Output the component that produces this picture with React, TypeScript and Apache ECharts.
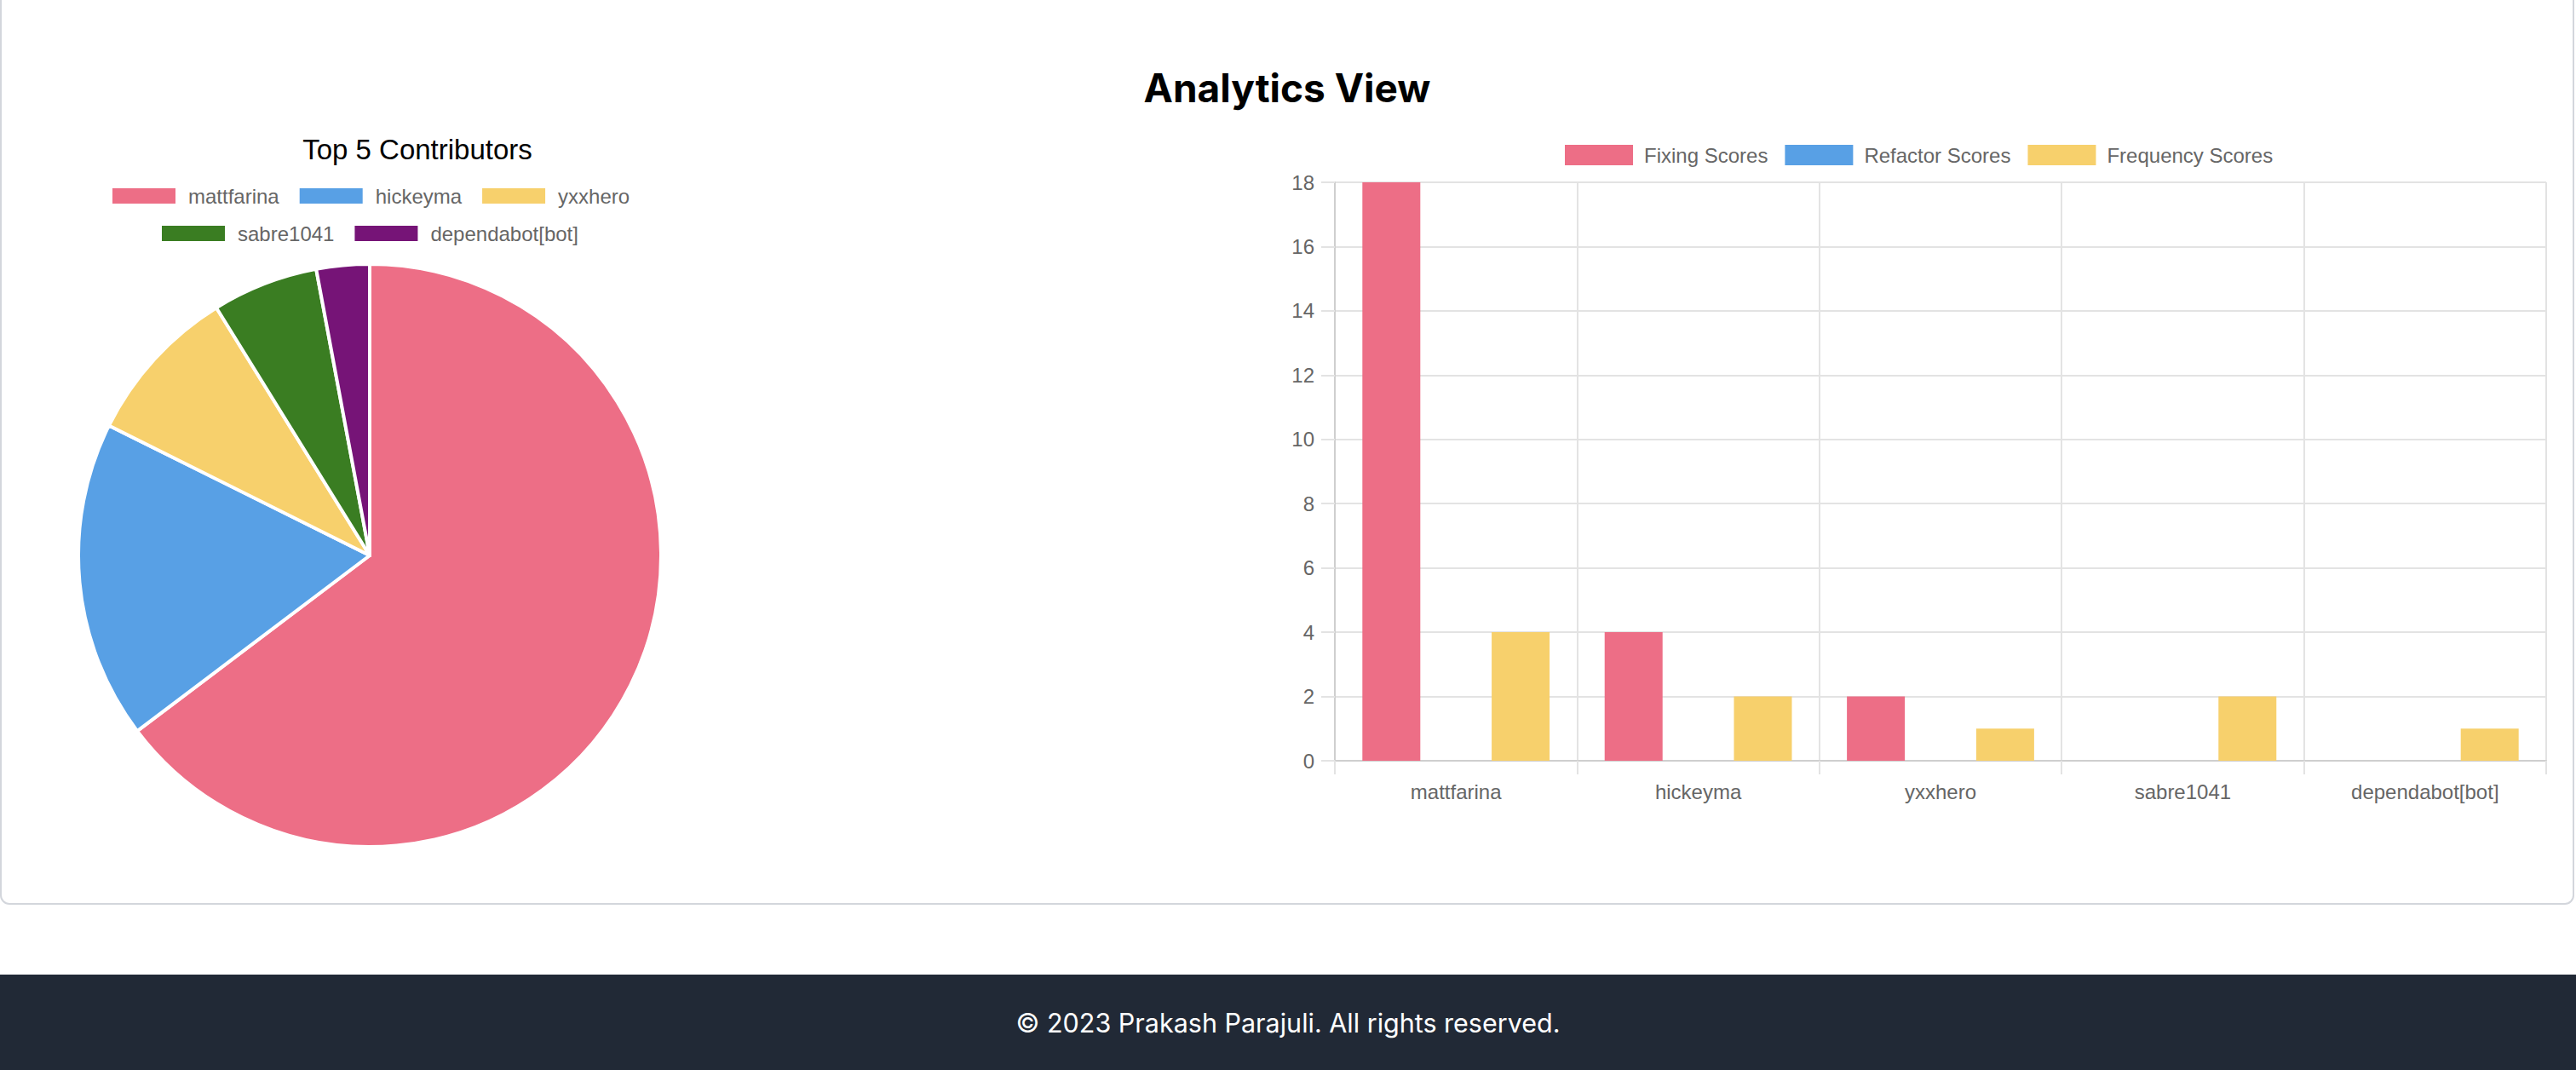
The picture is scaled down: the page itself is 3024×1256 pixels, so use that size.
import React, { useEffect, useRef } from "react";
import * as echarts from "echarts";

const contributors = ["mattfarina", "hickeyma", "yxxhero", "sabre1041", "dependabot[bot]"];
const contributionCounts = [22, 6, 3, 2, 1];
const pieColors = ["#ED6E86", "#58A0E5", "#F7D06C", "#3A7D22", "#761477"];

const scoreNames = ["Fixing Scores", "Refactor Scores", "Frequency Scores"];
const fixingScores = [18, 4, 2, 0, 0];
const refactorScores = [0, 0, 0, 0, 0];
const frequencyScores = [4, 2, 1, 2, 1];
const barColors = ["#ED6E86", "#58A0E5", "#F7D06C"];

const pageTitle = "Analytics View";
const pieTitle = "Top 5 Contributors";
const footerText = "\u00A9 2023 Prakash Parajuli. All rights reserved.";

const W = 3024;
const H = 1256;
const SANS = "'Liberation Sans', Arial, Helvetica, sans-serif";
const UI = "Inter, 'Noto Sans', sans-serif";

export default function App() {
  const ref = useRef<HTMLDivElement>(null);
  useEffect(() => {
    if (!ref.current) return;
    const chart = echarts.init(ref.current, undefined, { renderer: "svg", width: W, height: H });
    const legendText = { color: "#666", fontSize: 24, fontFamily: SANS, lineHeight: 24 };
    const option: any = {
      animation: false,
      backgroundColor: "#ffffff",
      graphic: [
        {
          type: "rect",
          z: -10,
          shape: { x: 1, y: -40, width: 3020, height: 1101, r: 10 },
          style: { fill: "#ffffff", stroke: "#d3d6dc", lineWidth: 2 },
          silent: true,
        },
        {
          type: "rect",
          z: -10,
          shape: { x: 0, y: 1144, width: W, height: H - 1144 },
          style: { fill: "#212936" },
          silent: true,
        },
        {
          type: "text",
          x: 1511,
          y: 103,
          style: { text: pageTitle, fill: "#000000", fontSize: 46, fontWeight: 700, fontFamily: UI, align: "center", verticalAlign: "middle" },
        },
        {
          type: "text",
          x: 490,
          y: 175,
          style: { text: pieTitle, fill: "#000000", fontSize: 33, fontFamily: SANS, align: "center", verticalAlign: "middle" },
        },
        {
          type: "text",
          x: 1512,
          y: 1200,
          style: { text: footerText, fill: "#ffffff", fontSize: 30.5, fontFamily: UI, align: "center", verticalAlign: "middle" },
        },
      ],
      legend: [
        {
          data: contributors.slice(0, 3),
          left: 130,
          top: 218,
          padding: 0,
          icon: "rect",
          itemWidth: 76,
          itemHeight: 20,
          itemGap: 22,
          selectedMode: false,
          textStyle: { ...legendText, padding: [0, 0, 0, 9] },
        },
        {
          data: contributors.slice(3),
          left: 188,
          top: 262,
          padding: 0,
          icon: "rect",
          itemWidth: 76,
          itemHeight: 20,
          itemGap: 22,
          selectedMode: false,
          textStyle: { ...legendText, padding: [0, 0, 0, 9] },
        },
        {
          data: scoreNames,
          left: 1837,
          top: 170,
          padding: 0,
          icon: "rect",
          itemWidth: 80,
          itemHeight: 24,
          itemGap: 20,
          selectedMode: false,
          textStyle: { ...legendText, padding: [0, 0, 0, 8] },
        },
      ],
      grid: { left: 1567, top: 214, width: 1422, height: 679, containLabel: false },
      xAxis: {
        type: "category",
        data: contributors,
        boundaryGap: true,
        axisLine: { show: true, lineStyle: { color: "#cfcfcf", width: 2 } },
        axisTick: { show: true, length: 16, alignWithLabel: false, lineStyle: { color: "#e3e3e3", width: 2 } },
        splitLine: { show: true, lineStyle: { color: "#e3e3e3", width: 2 } },
        axisLabel: { color: "#666", fontSize: 24, fontFamily: SANS, margin: 24 },
      },
      yAxis: {
        type: "value",
        min: 0,
        max: 18,
        interval: 2,
        axisLine: { show: true, lineStyle: { color: "#cfcfcf", width: 2 } },
        axisTick: { show: true, length: 16, lineStyle: { color: "#e3e3e3", width: 2 } },
        splitLine: { show: true, lineStyle: { color: "#e3e3e3", width: 2 } },
        axisLabel: { color: "#666", fontSize: 24, fontFamily: SANS, margin: 24 },
      },
      series: [
        {
          type: "pie",
          center: [434, 652],
          radius: 342,
          startAngle: 90,
          clockwise: true,
          label: { show: false },
          labelLine: { show: false },
          emphasis: { disabled: true },
          itemStyle: { borderColor: "#ffffff", borderWidth: 4 },
          data: contributors.map((name, i) => ({
            name,
            value: contributionCounts[i],
            itemStyle: { color: pieColors[i] },
          })),
        },
        {
          type: "bar",
          name: scoreNames[0],
          data: fixingScores,
          barWidth: 68,
          barGap: "11.6%",
          itemStyle: { color: barColors[0] },
          emphasis: { disabled: true },
        },
        {
          type: "bar",
          name: scoreNames[1],
          data: refactorScores,
          barWidth: 68,
          barGap: "11.6%",
          itemStyle: { color: barColors[1] },
          emphasis: { disabled: true },
        },
        {
          type: "bar",
          name: scoreNames[2],
          data: frequencyScores,
          barWidth: 68,
          barGap: "11.6%",
          itemStyle: { color: barColors[2] },
          emphasis: { disabled: true },
        },
      ],
    };
    chart.setOption(option);
    return () => chart.dispose();
  }, []);
  return (
    <div
      ref={ref}
      style={{ position: "fixed", left: 0, top: 0, width: W, height: H, background: "#fff" }}
    />
  );
}
